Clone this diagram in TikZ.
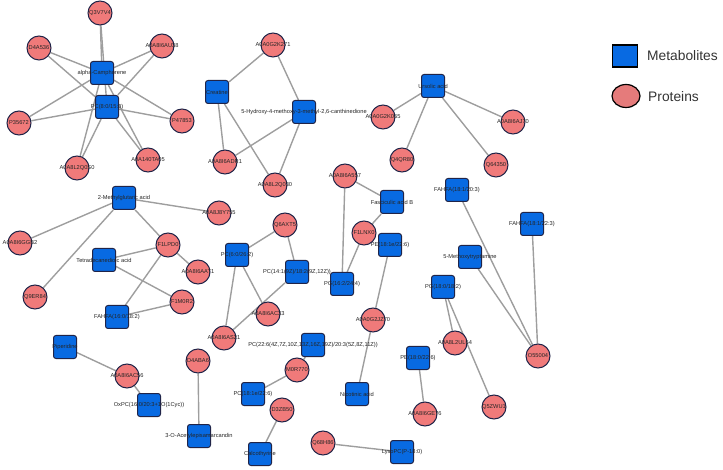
\documentclass[tikz,border=0pt]{standalone}
\usepackage{fontspec}
\setmainfont{Liberation Sans}
\usetikzlibrary{positioning, arrows.meta, calc, shapes.geometric}
\definecolor{metblue}{RGB}{8,106,226}
\definecolor{protred}{RGB}{240,122,122}
\definecolor{rimnavy}{RGB}{32,36,72}
\definecolor{edgegray}{RGB}{158,158,158}
\pgfdeclarelayer{background}
\pgfsetlayers{background,main}

\begin{document}
\begin{tikzpicture}[
  x=1pt, y=-1pt,
  met/.style={draw=rimnavy, line width=1pt, fill=metblue, rounded corners=2.5pt,
              minimum width=23pt, minimum height=23pt, inner sep=0pt},
  prot/.style={draw=rimnavy, line width=1pt, fill=protred, circle,
               minimum size=24pt, inner sep=0pt},
  lbl/.style={font=\fontsize{5.7}{6.5}\selectfont, text=black!85, inner sep=0pt},
  link/.style={draw=edgegray, line width=1.4pt},
  keytext/.style={font=\fontsize{13.8}{16}\selectfont, text=black!80, anchor=west, inner sep=0pt}
]
  \useasboundingbox (0,0) rectangle (723,470);

  % metabolites
  \node[met, label={[lbl]center:alpha-Camphorene}] (camph) at (102,73) {};
  \node[met, label={[lbl]center:PC(8:0/15:0)}] (pc8) at (107,107) {};
  \node[met, label={[lbl]center:Creatine}] (creat) at (217,92) {};
  \node[met, label={[lbl]center:5-Hydroxy-4-methoxy-3-methyl-2,6-canthinedione}] (hydrox) at (304,112) {};
  \node[met, label={[lbl]center:Ursolic acid}] (ursol) at (433,86) {};
  \node[met, label={[lbl]center:2-Methylglutaric acid}] (methglu) at (124,198) {};
  \node[met, label={[lbl]center:Tetradecanedioic acid}] (tetra) at (104,260) {};
  \node[met, label={[lbl]center:FAHFA(16:0/18:2)}] (fahfa16) at (117,317) {};
  \node[met, label={[lbl]center:PC(6:0/26:2)}] (pc6) at (237,255) {};
  \node[met, label={[lbl]center:{PC(14:1(9Z)/18:2(9Z,12Z))}}] (pc14) at (297,272) {};
  \node[met, label={[lbl]center:Fasciculic acid B}] (fasc) at (392,202) {};
  \node[met, label={[lbl]center:PE(18:1e/22:6)}] (pe18e) at (390,245) {};
  \node[met, label={[lbl]center:PG(16:2/24:4)}] (pg16) at (342,284) {};
  \node[met, label={[lbl]center:FAHFA(18:1/20:3)}] (fahfa20) at (457,190) {};
  \node[met, label={[lbl]center:FAHFA(18:1/22:3)}] (fahfa22) at (532,224) {};
  \node[met, label={[lbl]center:5-Methoxytryptamine}] (mtrypt) at (470,257) {};
  \node[met, label={[lbl]center:PG(18:0/18:2)}] (pg18) at (443,287) {};
  \node[met, label={[lbl]center:PE(18:0/22:6)}] (pe18) at (418,358) {};
  \node[met, label={[lbl]center:LysoPC(P-18:0)}] (lysopc) at (402,452) {};
  \node[met, label={[lbl]center:Nicotinic acid}] (nicot) at (357,394) {};
  \node[met, label={[lbl]center:Piperidine}] (piper) at (65,347) {};
  \node[met, label={[lbl]center:OxPC(16:0/20:3+1O(1Cyc))}] (oxpc) at (149,405) {};
  \node[met, label={[lbl]center:3-O-Acetylepisamarcandin}] (acetyl) at (199,436) {};
  \node[met, label={[lbl]center:{PC(22:6(4Z,7Z,10Z,13Z,16Z,19Z)/20:3(5Z,8Z,11Z))}}] (pc22) at (313,345) {};
  \node[met, label={[lbl]center:PC(18:1e/22:6)}] (pc18e) at (253,394) {};
  \node[met, label={[lbl]center:Calcothyrine}] (calco) at (260,454) {};

  % proteins
  \node[prot, label={[lbl]center:Q3V7V4}] (q3v) at (100,13) {};
  \node[prot, label={[lbl]center:D4A536}] (d4a536) at (39,48) {};
  \node[prot, label={[lbl]center:A0A8I6AU38}] (au38) at (162,46) {};
  \node[prot, label={[lbl]center:P35672}] (p35672) at (19,123) {};
  \node[prot, label={[lbl]center:P47853}] (p47853) at (182,121) {};
  \node[prot, label={[lbl]center:A0A8L2Q0S0}] (q0s0) at (77,168) {};
  \node[prot, label={[lbl]center:A0A140TA05}] (ta05) at (148,160) {};
  \node[prot, label={[lbl]center:A0A0G2K271}] (k271) at (273,45) {};
  \node[prot, label={[lbl]center:A0A8I6ADR1}] (adr1) at (225,162) {};
  \node[prot, label={[lbl]center:A0A8L2Q030}] (q030) at (275,185) {};
  \node[prot, label={[lbl]center:A0A0G2K065}] (k065) at (383,117) {};
  \node[prot, label={[lbl]center:A0A8I6AJ70}] (aj70) at (513,122) {};
  \node[prot, label={[lbl]center:Q4QR80}] (q4qr80) at (402,160) {};
  \node[prot, label={[lbl]center:Q64350}] (q64350) at (496,165) {};
  \node[prot, label={[lbl]center:A0A8J8Y755}] (y755) at (219,213) {};
  \node[prot, label={[lbl]center:A0A8I6GGB2}] (ggb2) at (20,243) {};
  \node[prot, label={[lbl]center:F1LPD0}] (f1lpd0) at (168,245) {};
  \node[prot, label={[lbl]center:A0A8I6AAT1}] (aat1) at (198,272) {};
  \node[prot, label={[lbl]center:Q9ER84}] (q9er84) at (35,297) {};
  \node[prot, label={[lbl]center:F1M0R2}] (f1m0r2) at (182,302) {};
  \node[prot, label={[lbl]center:Q6AXT5}] (q6axt5) at (285,225) {};
  \node[prot, label={[lbl]center:A0A8I6AC33}] (ac33) at (268,314) {};
  \node[prot, label={[lbl]center:A0A8I6AS21}] (as21) at (224,338) {};
  \node[prot, label={[lbl]center:A0A8I6A557}] (a557) at (345,176) {};
  \node[prot, label={[lbl]center:F1LNX0}] (f1lnx0) at (364,233) {};
  \node[prot, label={[lbl]center:A0A0G2JZ70}] (jz70) at (373,320) {};
  \node[prot, label={[lbl]center:A0A8L2UL64}] (ul64) at (455,343) {};
  \node[prot, label={[lbl]center:Q5ZWU1}] (q5zwu1) at (494,407) {};
  \node[prot, label={[lbl]center:O55004}] (o55004) at (538,356) {};
  \node[prot, label={[lbl]center:A0A8I6GE76}] (ge76) at (425,414) {};
  \node[prot, label={[lbl]center:Q68H86}] (q68h86) at (323,443) {};
  \node[prot, label={[lbl]center:A0A8I6AC56}] (ac56) at (127,376) {};
  \node[prot, label={[lbl]center:D4ABA6}] (d4aba6) at (198,361) {};
  \node[prot, label={[lbl]center:M0R770}] (m0r770) at (297,370) {};
  \node[prot, label={[lbl]center:D3ZB50}] (d3zb50) at (282,410) {};

  % legend
  \node[draw=black, line width=1.2pt, fill=metblue, minimum width=25pt, minimum height=22pt, inner sep=0pt] (keymet) at (625,56) {};
  \node[draw=black, line width=1.2pt, fill=protred!90!gray, ellipse, minimum width=28pt, minimum height=23pt, inner sep=0pt] (keyprot) at (626,96) {};
  \node[keytext] (keymettext) at (647,56) {Metabolites};
  \node[keytext] (keyprottext) at (648,97) {Proteins};

  % links
  \begin{pgfonlayer}{background}
    \foreach \p in {q3v, d4a536, au38, p35672, p47853, q0s0, ta05} {
      \draw[link] (\p) -- (camph);
      \draw[link] (\p) -- (pc8);
    }
    \draw[link] (k271) -- (creat);
    \draw[link] (k271) -- (hydrox);
    \draw[link] (creat) -- (adr1);
    \draw[link] (creat) -- (q030);
    \draw[link] (hydrox) -- (adr1);
    \draw[link] (hydrox) -- (q030);
    \foreach \p in {k065, aj70, q4qr80, q64350}
      \draw[link] (ursol) -- (\p);
    \foreach \p in {y755, ggb2, q9er84, f1lpd0}
      \draw[link] (methglu) -- (\p);
    \draw[link] (tetra) -- (f1lpd0);
    \draw[link] (tetra) -- (f1m0r2);
    \draw[link] (f1lpd0) -- (aat1);
    \draw[link] (f1lpd0) -- (fahfa16);
    \draw[link] (f1m0r2) -- (fahfa16);
    \draw[link] (q6axt5) -- (pc6);
    \draw[link] (q6axt5) -- (pc14);
    \draw[link] (pc6) -- (as21);
    \draw[link] (pc6) -- (ac33);
    \draw[link] (pc14) -- (as21);
    \draw[link] (a557) -- (fasc);
    \draw[link] (a557) -- (pg16);
    \draw[link] (fasc) -- (f1lnx0);
    \draw[link] (f1lnx0) -- (pg16);
    \draw[link] (pe18e) -- (jz70);
    \draw[link] (jz70) -- (nicot);
    \draw[link] (fahfa20) -- (o55004);
    \draw[link] (fahfa22) -- (o55004);
    \draw[link] (mtrypt) -- (o55004);
    \draw[link] (pg18) -- (ul64);
    \draw[link] (pg18) -- (q5zwu1);
    \draw[link] (pe18) -- (ge76);
    \draw[link] (q68h86) -- (lysopc);
    \draw[link] (piper) -- (ac56);
    \draw[link] (ac56) -- (oxpc);
    \draw[link] (d4aba6) -- (acetyl);
    \draw[link] (pc22) -- (m0r770);
    \draw[link] (m0r770) -- (pc18e);
    \draw[link] (d3zb50) -- (calco);
  \end{pgfonlayer}
\end{tikzpicture}
\end{document}
